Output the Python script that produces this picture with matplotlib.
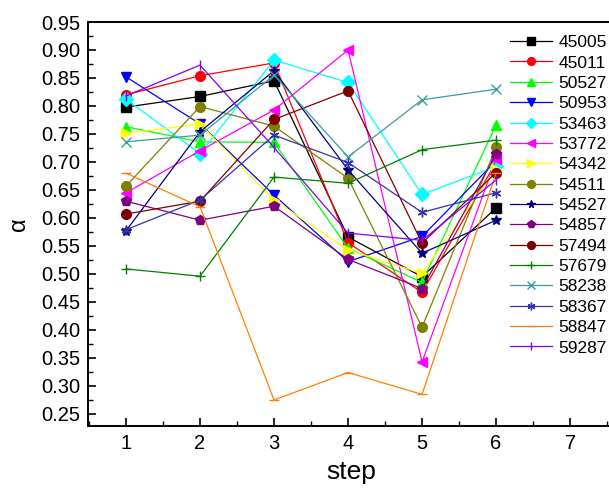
import matplotlib
matplotlib.use("Agg")
import matplotlib.pyplot as plt
from matplotlib.ticker import MultipleLocator

plt.rcParams['font.family'] = ['Liberation Sans', 'DejaVu Sans']

steps = [1, 2, 3, 4, 5, 6]

stations = ["45005", "45011", "50527", "50953", "53463", "53772", "54342", "54511",
            "54527", "54857", "57494", "57679", "58238", "58367", "58847", "59287"]

# alpha values per station
s45005 = [0.798, 0.817, 0.845, 0.566, 0.495, 0.618]
s45011 = [0.820, 0.854, 0.877, 0.556, 0.467, 0.700]
s50527 = [0.763, 0.736, 0.735, 0.546, 0.485, 0.766]
s50953 = [0.852, 0.768, 0.641, 0.522, 0.567, 0.702]
s53463 = [0.812, 0.715, 0.882, 0.842, 0.642, 0.692]
s53772 = [0.645, 0.720, 0.793, 0.900, 0.343, 0.705]
s54342 = [0.751, 0.768, 0.632, 0.543, 0.501, 0.688]
s54511 = [0.657, 0.799, 0.764, 0.671, 0.405, 0.726]
s54527 = [0.577, 0.754, 0.863, 0.686, 0.537, 0.596]
s54857 = [0.630, 0.596, 0.621, 0.526, 0.474, 0.714]
s57494 = [0.607, 0.630, 0.776, 0.827, 0.555, 0.681]
s57679 = [0.509, 0.496, 0.673, 0.662, 0.722, 0.739]
s58238 = [0.736, 0.748, 0.855, 0.709, 0.811, 0.830]
s58367 = [0.579, 0.632, 0.748, 0.699, 0.610, 0.645]
s58847 = [0.680, 0.620, 0.275, 0.324, 0.285, 0.680]
s59287 = [0.818, 0.873, 0.726, 0.573, 0.560, 0.668]

series = [s45005, s45011, s50527, s50953, s53463, s53772, s54342, s54511,
          s54527, s54857, s57494, s57679, s58238, s58367, s58847, s59287]

colors = ["#000000", "#FF0000", "#00FF00", "#0000FF", "#00FFFF", "#FF00FF", "#FFFF00",
          "#808000", "#000080", "#800080", "#800000", "#008000", "#3A9C9C", "#3333B0",
          "#FF8000", "#8000FF"]
markers = ["s", "o", "^", "v", "D", "<", ">", "o", "*", "p", "o", "+", "x",
           (6, 2, 0), "_", "|"]

fig = plt.figure(figsize=(6.09, 4.94), dpi=100)
# axes runs a bit past the right edge of the figure, like the cropped original
ax = fig.add_axes([87.5 / 609, 68 / 494, 527 / 609, 404 / 494])

for name, vals, c, m in zip(stations, series, colors, markers):
    ax.plot(steps, vals, color=c, marker=m, markersize=7, linewidth=0.9,
            markeredgewidth=1.0, label=name)

ax.set_xlim(0.48, 7.6)
ax.set_ylim(0.2285, 0.95)
ax.xaxis.set_minor_locator(MultipleLocator(0.5))
ax.yaxis.set_minor_locator(MultipleLocator(0.025))
ax.set_xticks([1, 2, 3, 4, 5, 6, 7])
ax.set_yticks([0.25 + 0.05 * i for i in range(15)])
ax.set_yticklabels(["%.2f" % (0.25 + 0.05 * i) for i in range(15)])

ax.tick_params(which="both", direction="in", top=False, right=False, labelsize=14.5)
ax.tick_params(which="major", length=6, width=1.2)
ax.tick_params(which="minor", length=3.5, width=1.0)
ax.tick_params(axis="x", pad=6)
ax.tick_params(axis="y", pad=5)
for sp in ax.spines.values():
    sp.set_linewidth(1.4)

ax.set_xlabel("step", fontsize=19, labelpad=5)
ax.set_ylabel("α", fontsize=17, labelpad=8)

ax.legend(loc="upper left", bbox_to_anchor=(510 / 609, 1 - 35 / 494),
          bbox_transform=fig.transFigure, frameon=False, fontsize=12.5,
          handlelength=2.4, handletextpad=0.4, labelspacing=0.3, borderpad=0,
          borderaxespad=0, markerscale=0.8)

fig.savefig("out.png", dpi=100)
